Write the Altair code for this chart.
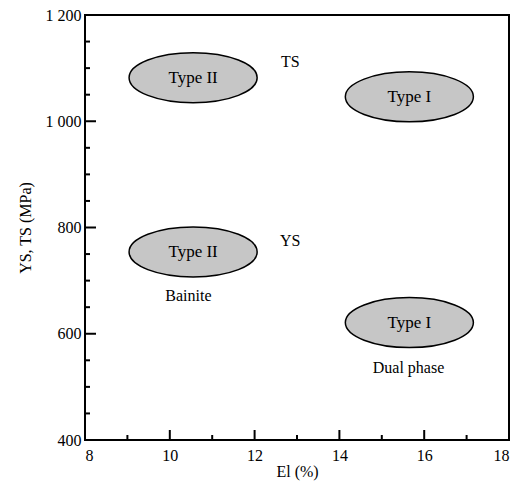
import altair as alt
import pandas as pd

# ---- data ----
ell_kind = ["Type II", "Type I", "Type II", "Type I"]
ell_el = [10.55, 15.65, 10.55, 15.65]
ell_stress = [1082, 1046, 754, 621]

note_text = ["TS", "YS", "Bainite", "Dual phase"]
note_el = [12.84, 12.84, 10.44, 15.63]
note_stress = [1112, 775, 672, 535]

x_major = [8, 10, 12, 14, 16, 18]
x_minor = [9, 11, 13, 15, 17]
y_major = [400, 600, 800, 1000, 1200]
y_minor = [450, 500, 550, 650, 700, 750, 850, 900, 950, 1050, 1100, 1150]

df_ell = pd.DataFrame({"kind": ell_kind, "el": ell_el, "stress": ell_stress})
df_note = pd.DataFrame({"text": note_text, "el": note_el, "stress": note_stress})

W, H = 424, 425
FONT = "Liberation Serif"
ELL = "M -1 0 A 1 0.39 0 1 1 1 0 A 1 0.39 0 1 1 -1 0 Z"

xs = alt.Scale(domain=[8, 18], nice=False, zero=False)
ys = alt.Scale(domain=[400, 1200], nice=False, zero=False)

x_main = alt.Axis(values=x_major, title="El (%)", ticks=False, domain=False,
                  grid=False, labelFont=FONT, labelFontSize=16, labelColor="black",
                  titleFont=FONT, titleFontSize=16, titleFontWeight="normal",
                  titleColor="black", labelPadding=7, titlePadding=0)
y_main = alt.Axis(values=y_major, title="YS, TS (MPa)", ticks=False, domain=False,
                  grid=False, labelFont=FONT, labelFontSize=16, labelColor="black",
                  labelExpr="replace(format(datum.value, ','), ',', ' ')",
                  titleFont=FONT, titleFontSize=16, titleFontWeight="normal",
                  titleColor="black", labelPadding=4, titlePadding=12)


def X(field):
    return alt.X(field, type="quantitative", scale=xs, axis=x_main)


def Y(field):
    return alt.Y(field, type="quantitative", scale=ys, axis=y_main)


ellipses = alt.Chart(df_ell).mark_point(
    shape=ELL, filled=True, fill="#c6c6c6", stroke="black", strokeWidth=1.5,
    opacity=1, size=16400
).encode(x=X("el"), y=Y("stress"))

ell_text = alt.Chart(df_ell).mark_text(
    font=FONT, fontSize=17, color="black"
).encode(x=X("el"), y=Y("stress"), text="kind:N")

notes = alt.Chart(df_note).mark_text(
    font=FONT, fontSize=16, color="black"
).encode(x=X("el"), y=Y("stress"), text="text:N")


def xticks(vals, length):
    return alt.Chart(pd.DataFrame({"v": vals})).mark_rule(
        color="black", strokeWidth=2
    ).encode(x=X("v"), y=alt.value(H), y2=alt.value(H - length))


def yticks(vals, length):
    return alt.Chart(pd.DataFrame({"v": vals})).mark_rule(
        color="black", strokeWidth=2
    ).encode(y=Y("v"), x=alt.value(0), x2=alt.value(length))


chart = alt.layer(
    ellipses, ell_text, notes,
    xticks(x_major, 10), xticks(x_minor, 5),
    yticks(y_major, 11), yticks(y_minor, 5),
).properties(
    width=W, height=H, background="white",
    autosize=alt.AutoSizeParams(type="none"),
    padding={"left": 77, "top": 7, "right": 9, "bottom": 42}
).configure_view(stroke="black", strokeWidth=2)

chart.save("out.html", embed_options={"renderer": "svg", "actions": False})
